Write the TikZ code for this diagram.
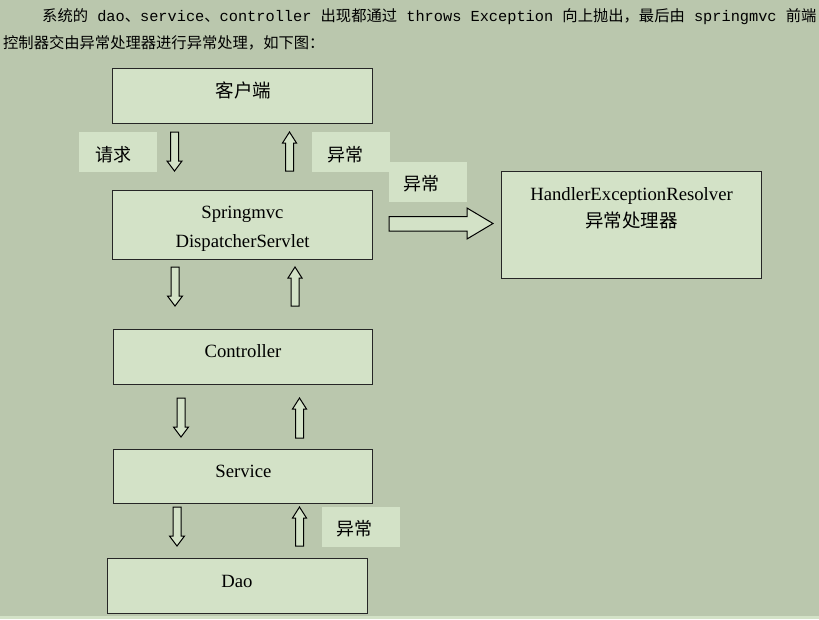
\documentclass[tikz,border=0pt]{standalone}
\usepackage{fontspec}
\setmainfont{Liberation Serif}
\setmonofont{Liberation Mono}
\newfontfamily\cjk{Noto Sans CJK SC}
\definecolor{bgc}{RGB}{186,199,173}
\definecolor{boxc}{RGB}{211,226,199}
\tikzset{
  blk/.style={draw=black!85, line width=1.2pt, fill=boxc, inner sep=0pt, anchor=north west},
  lbl/.style={fill=boxc, inner sep=0pt, anchor=north west},
  txt/.style={inner sep=0pt, anchor=base, font=\fontsize{18.7}{22}\selectfont},
  ltxt/.style={inner sep=0pt, anchor=base west, font=\fontsize{18}{22}\selectfont\cjk},
  head/.style={inner sep=0pt, anchor=base west, font=\fontsize{15.3}{18}\selectfont},
  barr/.style={draw=black, line width=1pt, fill=boxc, line join=miter},
}
\newcommand\myDownArrow[3]{\draw[barr] ({#1-4},#2) -- ({#1+4},#2) -- ({#1+4},{#3-10}) -- ({#1+7.5},{#3-10}) -- (#1,#3) -- ({#1-7.5},{#3-10}) -- ({#1-4},{#3-10}) -- cycle;}
\newcommand\myUpArrow[3]{\draw[barr] ({#1-4},#3) -- ({#1+4},#3) -- ({#1+4},{#2+11}) -- ({#1+7},{#2+11}) -- (#1,#2) -- ({#1-7},{#2+11}) -- ({#1-4},{#2+11}) -- cycle;}
\begin{document}
\begin{tikzpicture}[x=1pt,y=-1pt]
\fill[bgc] (0,0) rectangle (819,619);
\useasboundingbox (0,0) rectangle (819,619);
\fill[boxc] (0,616) rectangle (819,619);
% header
\node[head] (h1) at (42,21.8) {{\cjk 系统的}\texttt{ dao}{\cjk 、}\texttt{service}{\cjk 、}\texttt{controller }{\cjk 出现都通过}\texttt{ throws Exception }{\cjk 向上抛出，最后由}\texttt{ springmvc }{\cjk 前端}};
\node[head] (h2) at (3,48.3) {\cjk 控制器交由异常处理器进行异常处理，如下图：};
% boxes
\node[blk, minimum width=260pt, minimum height=55pt] (client) at (112,68) {};
\node[blk, minimum width=260pt, minimum height=69pt] (disp) at (112,190) {};
\node[blk, minimum width=259.5pt, minimum height=55pt] (ctrl) at (112.5,329) {};
\node[blk, minimum width=259.5pt, minimum height=54pt] (serv) at (112.5,449) {};
\node[blk, minimum width=260pt, minimum height=55pt] (dao) at (107,558) {};
\node[blk, minimum width=260pt, minimum height=107pt] (res) at (501,171) {};
% box texts
\node[txt, font=\fontsize{18.5}{22}\selectfont\cjk] (t1) at (243.5,97) {客户端};
\node[txt] (t2) at (242.5,218.7) {Springmvc};
\node[txt] (t3) at (242.5,247) {DispatcherServlet};
\node[txt] (t4) at (243,357) {Controller};
\node[txt] (t5) at (243.5,477) {Service};
\node[txt] (t6) at (237,587) {Dao};
\node[txt] (t7) at (631.5,200) {HandlerExceptionResolver};
\node[txt, font=\fontsize{18.5}{22}\selectfont\cjk] (t8) at (631.5,227.5) {异常处理器};
% labels
\node[lbl, minimum width=78pt, minimum height=40pt] (req) at (79,132) {};
\node[lbl, minimum width=78pt, minimum height=40pt] (ex1) at (312,132) {};
\node[lbl, minimum width=78pt, minimum height=40pt] (ex2) at (389,162) {};
\node[lbl, minimum width=78pt, minimum height=40pt] (ex3) at (322,507) {};
\node[ltxt] (l1) at (95,161.5) {请求};
\node[ltxt] (l2) at (327,161) {异常};
\node[ltxt] (l3) at (403,190) {异常};
\node[ltxt] (l4) at (336,535) {异常};
% arrows
\myDownArrow{174.5}{132}{171}
\myUpArrow{289.5}{132}{171}
\myDownArrow{175}{267}{306}
\myUpArrow{295}{267}{306}
\myDownArrow{181}{398}{437}
\myUpArrow{299.5}{398}{438}
\myDownArrow{177}{507}{546}
\myUpArrow{299.5}{507}{546}
\draw[barr] (389,216.5) -- (467,216.5) -- (467,208) -- (493,223.5) -- (467,239) -- (467,231) -- (389,231) -- cycle;
\end{tikzpicture}
\end{document}
